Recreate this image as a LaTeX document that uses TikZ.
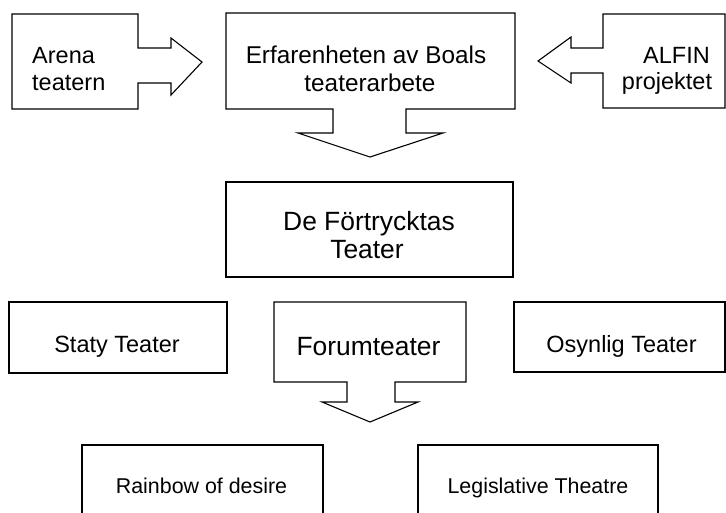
\documentclass[tikz,border=0pt]{standalone}
\usepackage{fontspec}
\setmainfont{Liberation Sans}
\begin{document}
\begin{tikzpicture}[x=1pt,y=-1pt,
  thinline/.style={draw=black, line width=1.1pt, line join=miter},
  medline/.style={draw=black, line width=2pt},
  thickline/.style={draw=black, line width=2.8pt},
  txt/.style={anchor=base, inner sep=0pt, font=\fontsize{23.5}{28}\selectfont},
  txtbig/.style={txt, font=\fontsize{26.4}{30}\selectfont},
  txtsmall/.style={txt, font=\fontsize{21.4}{25}\selectfont}]
\useasboundingbox (0,0) rectangle (726,512);
\clip (0,0) rectangle (726,512);
% callout outlines
\draw[thinline] (12,14) -- (138,14) -- (138,48) -- (171,48) -- (171,38) -- (202,62)
  -- (171,95) -- (171,83) -- (138,83) -- (138,109) -- (12,109) -- cycle;
\draw[thinline] (226,13) -- (515,13) -- (515,109) -- (406,109) -- (406,133) -- (443,133)
  -- (370,157) -- (298,133) -- (333,133) -- (333,109) -- (226,109) -- cycle;
\draw[thinline] (725,14) -- (603,14) -- (603,48) -- (571,48) -- (571,37) -- (538,61)
  -- (571,83) -- (571,73) -- (603,73) -- (603,108) -- (725,108) -- cycle;
\draw[thinline] (274,302) -- (466,302) -- (466,382) -- (395,382) -- (395,402) -- (418,402)
  -- (370,422) -- (322,402) -- (347,402) -- (347,382) -- (274,382) -- cycle;
% plain boxes
\draw[thickline] (226,182) rectangle (513,277);
\draw[medline] (9,302) rectangle (227,373);
\draw[medline] (514,302) rectangle (725,372);
\draw[thinline] (82,445) rectangle (323,530);
\draw[thinline] (418,445) rectangle (658,530);
% texts
\node[txt, anchor=base west] (arenaA) at (32,63) {Arena};
\node[txt, anchor=base west] (arenaB) at (32,90) {teatern};
\node[txt, font=\fontsize{24.3}{28}\selectfont] (erfA) at (366,63) {Erfarenheten av Boals};
\node[txt, font=\fontsize{24.3}{28}\selectfont] (erfB) at (370,91) {teaterarbete};
\node[txt] (alfinA) at (676.5,63) {ALFIN};
\node[txt] (alfinB) at (667,89) {projektet};
\node[txtbig] (dftA) at (369,230) {De Förtrycktas};
\node[txtbig] (dftB) at (367,258) {Teater};
\node[txt] (staty) at (117,352) {Staty Teater};
\node[txtbig] (forum) at (368.5,355) {Forumteater};
\node[txt] (osynlig) at (621.5,352) {Osynlig Teater};
\node[txtsmall] (rainbow) at (201.5,493) {Rainbow of desire};
\node[txtsmall] (legis) at (538,493) {Legislative Theatre};
\end{tikzpicture}
\end{document}
